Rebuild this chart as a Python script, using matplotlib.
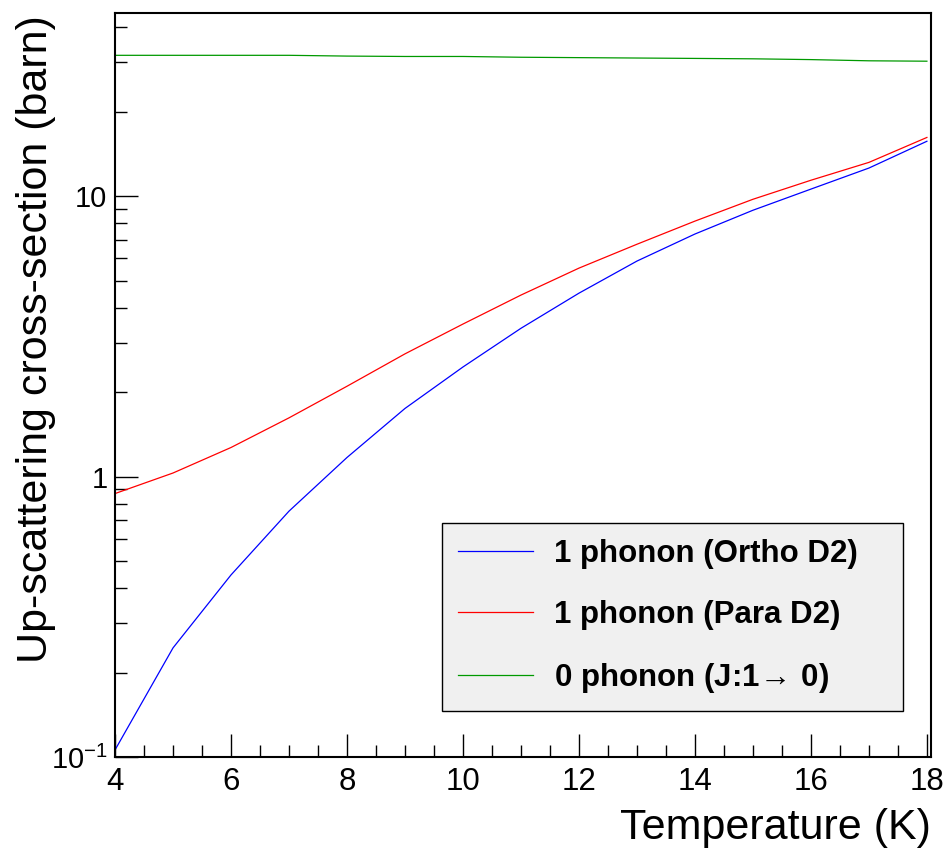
import numpy as np
import matplotlib
matplotlib.use("Agg")

import matplotlib.pyplot as plt
from matplotlib.ticker import FixedLocator, FixedFormatter, NullFormatter


# =====================================================
# DATA
# =====================================================

temperature = [4, 5, 6, 7, 8, 9, 10, 11, 12, 13, 14, 15, 16, 17, 18]

ortho_1phonon = [0.106, 0.245, 0.446, 0.753, 1.17, 1.75, 2.46, 3.38,
                 4.51, 5.87, 7.33, 8.91, 10.6, 12.6, 15.7]

para_1phonon = [0.87, 1.03, 1.27, 1.62, 2.10, 2.74, 3.50, 4.44,
                5.54, 6.74, 8.15, 9.75, 11.4, 13.2, 16.2]

zero_phonon = [31.8, 31.8, 31.8, 31.8, 31.6, 31.5, 31.5, 31.3,
               31.2, 31.1, 31.0, 30.9, 30.7, 30.4, 30.3]

series_labels = [
    "1 phonon (Ortho D2)",
    "1 phonon (Para D2)",
    r"0 phonon (J:1$\!\rightarrow\!$ 0)",
]

y_major = [0.1, 1, 10]
y_major_labels = [r"10$^{-1}$", "1", "10"]


# =====================================================
# STYLE
# =====================================================

plt.rcParams["font.family"] = ["Liberation Sans", "DejaVu Sans"]
plt.rcParams["mathtext.fontset"] = "custom"
plt.rcParams["mathtext.rm"] = "Liberation Sans"
plt.rcParams["mathtext.bf"] = "Liberation Sans:bold"


# =====================================================
# FIGURE
# =====================================================

fig = plt.figure(figsize=(9.46, 8.52), dpi=100)

ax = fig.add_axes([0.1216, 0.1115, 0.8625, 0.8732])

ax.plot(temperature, ortho_1phonon, color="#0000ff", lw=0.9,
        label=series_labels[0])
ax.plot(temperature, para_1phonon, color="#ff0000", lw=0.9,
        label=series_labels[1])
ax.plot(temperature, zero_phonon, color="#009900", lw=0.9,
        label=series_labels[2])

ax.set_yscale("log")
ax.set_xlim(4, 18.07)
ax.set_ylim(0.1, 45)

# x ticks: major every 2, minor every 0.5
ax.xaxis.set_major_locator(FixedLocator(np.arange(4, 18.01, 2)))
ax.xaxis.set_minor_locator(FixedLocator(np.arange(4, 18.01, 0.5)))

# y ticks: decades labelled, 2..9 minor
minor_y = []
for decade in [0.1, 1, 10]:
    for k in range(2, 10):
        if decade * k <= 45:
            minor_y.append(decade * k)
ax.yaxis.set_major_locator(FixedLocator(y_major))
ax.yaxis.set_major_formatter(FixedFormatter(y_major_labels))
ax.yaxis.set_minor_locator(FixedLocator(minor_y))
ax.yaxis.set_minor_formatter(NullFormatter())

ax.tick_params(which="both", direction="in", top=False, right=False,
               width=1.0, color="black")
ax.tick_params(which="major", length=16.5)
ax.tick_params(which="minor", length=8.5)
ax.tick_params(axis="x", which="major", labelsize=22.5, pad=7)
ax.tick_params(axis="y", which="major", labelsize=21, pad=5.5)

for spine in ax.spines.values():
    spine.set_linewidth(1.5)

ax.set_xlabel("Temperature (K)", fontsize=31, loc="right")
ax.xaxis.set_label_coords(1.0, -0.068)
ax.set_ylabel("Up-scattering cross-section (barn)", fontsize=31,
              loc="top")
ax.yaxis.set_label_coords(-0.072, 0.997)

# legend box: top-left corner at (0.40, 0.3145) in axes units
leg = ax.legend(
    loc="upper left",
    bbox_to_anchor=(0.4007, 0.0645, 0.565, 0.25),
    mode="expand",
    prop={"weight": "bold", "size": 22.5},
    frameon=True,
    fancybox=False,
    handlelength=2.4,
    handletextpad=0.7,
    labelspacing=1.0,
    borderpad=0.5,
    borderaxespad=0.0,
)
leg.get_frame().set_facecolor("#f0f0f0")
leg.get_frame().set_edgecolor("black")
leg.get_frame().set_linewidth(1.0)
leg.get_frame().set_alpha(1.0)

fig.savefig("out.png", dpi=100)
